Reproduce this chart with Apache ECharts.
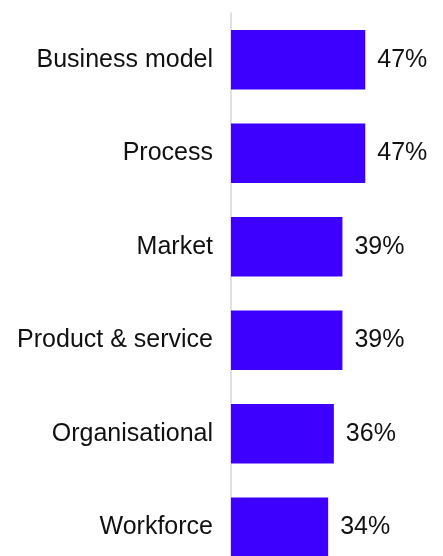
<!DOCTYPE html>
<html>
<head>
<meta charset="utf-8">
<script src="https://cdn.jsdelivr.net/npm/echarts@6/dist/echarts.min.js"></script>
<style>
html,body{margin:0;padding:0;background:#fff;overflow:hidden;height:556px;}
#chart{width:443px;height:574px;}
</style>
</head>
<body>
<div id="chart"></div>
<script>
const categories = ["Business model", "Process", "Market", "Product & service", "Organisational", "Workforce"];
const values = [47, 47, 39, 39, 36, 34];

const chart = echarts.init(document.getElementById('chart'), null, {renderer: 'canvas'});
chart.setOption({
  animation: false,
  grid: {left: 231, top: 13, right: 12, bottom: 0, containLabel: false},
  xAxis: {
    type: 'value', min: 0, max: 70, show: false
  },
  yAxis: {
    type: 'category',
    data: categories,
    inverse: true,
    axisLine: {show: true, lineStyle: {color: '#d6d6d6', width: 1.5}},
    axisTick: {show: false},
    axisLabel: {
      margin: 18,
      color: '#111111',
      fontFamily: 'Liberation Sans, Arial, sans-serif',
      fontSize: 25
    }
  },
  series: [{
    type: 'bar',
    data: values,
    barWidth: '63.4%',
    itemStyle: {color: '#3d00ff'},
    label: {
      show: true,
      position: 'right',
      distance: 12,
      formatter: '{c}%',
      color: '#111111',
      fontFamily: 'Liberation Sans, Arial, sans-serif',
      fontSize: 25
    }
  }]
});
</script>
</body>
</html>
